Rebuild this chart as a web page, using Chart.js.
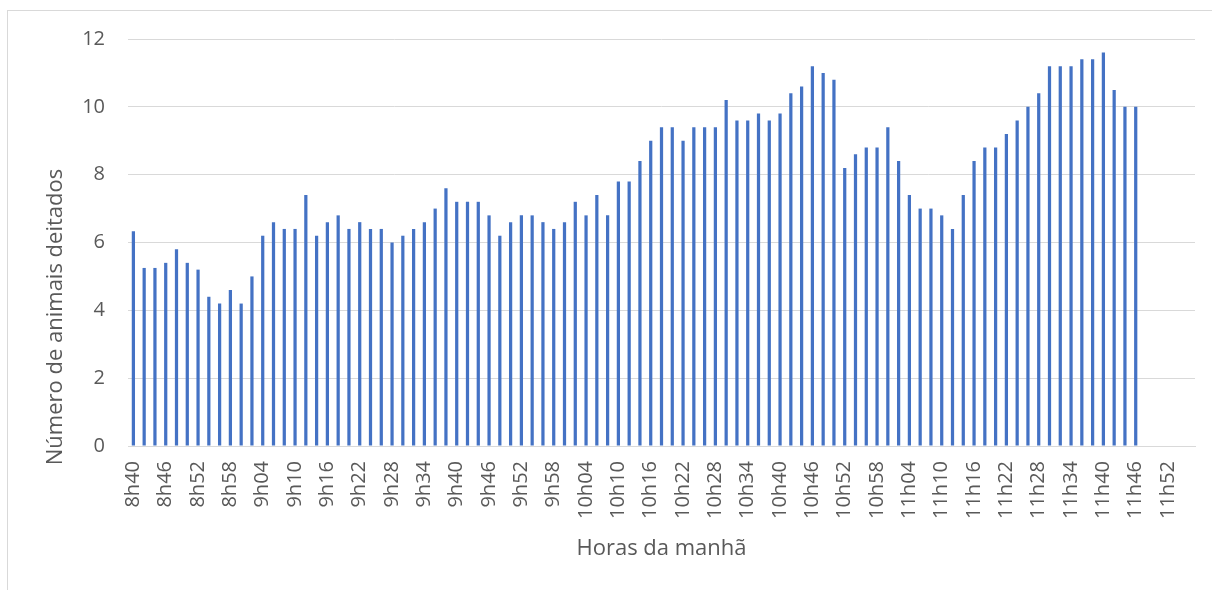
<!DOCTYPE html>
<html>
<head>
<meta charset="utf-8">
<script src="https://cdn.jsdelivr.net/npm/chart.js@4.4.0/dist/chart.umd.min.js"></script>
<style>
  html, body { margin: 0; padding: 0; background: #ffffff; overflow: hidden; }
  #wrap { position: relative; width: 1212px; height: 590px; }
  canvas { display: block; }
</style>
</head>
<body>
<div id="wrap"><canvas id="c" width="1212" height="590"></canvas></div>
<script>
// Categories: time of day, every 2 minutes
const categories = [
  '8h40','8h42','8h44','8h46','8h48','8h50','8h52','8h54','8h56','8h58',
  '9h00','9h02','9h04','9h06','9h08','9h10','9h12','9h14','9h16','9h18',
  '9h20','9h22','9h24','9h26','9h28','9h30','9h32','9h34','9h36','9h38',
  '9h40','9h42','9h44','9h46','9h48','9h50','9h52','9h54','9h56','9h58',
  '10h00','10h02','10h04','10h06','10h08','10h10','10h12','10h14','10h16','10h18',
  '10h20','10h22','10h24','10h26','10h28','10h30','10h32','10h34','10h36','10h38',
  '10h40','10h42','10h44','10h46','10h48','10h50','10h52','10h54','10h56','10h58',
  '11h00','11h02','11h04','11h06','11h08','11h10','11h12','11h14','11h16','11h18',
  '11h20','11h22','11h24','11h26','11h28','11h30','11h32','11h34','11h36','11h38',
  '11h40','11h42','11h44','11h46','11h48','11h50','11h52','11h54','11h56'
];

// Número de animais deitados
const animaisDeitados = [
  6.33, 5.25, 5.25, 5.4, 5.8, 5.4, 5.2, 4.4, 4.2, 4.6,
  4.2, 5.0, 6.2, 6.6, 6.4, 6.4, 7.4, 6.2, 6.6, 6.8,
  6.4, 6.6, 6.4, 6.4, 6.0, 6.2, 6.4, 6.6, 7.0, 7.6,
  7.2, 7.2, 7.2, 6.8, 6.2, 6.6, 6.8, 6.8, 6.6, 6.4,
  6.6, 7.2, 6.8, 7.4, 6.8, 7.8, 7.8, 8.4, 9.0, 9.4,
  9.4, 9.0, 9.4, 9.4, 9.4, 10.2, 9.6, 9.6, 9.8, 9.6,
  9.8, 10.4, 10.6, 11.2, 11.0, 10.8, 8.2, 8.6, 8.8, 8.8,
  9.4, 8.4, 7.4, 7.0, 7.0, 6.8, 6.4, 7.4, 8.4, 8.8,
  8.8, 9.2, 9.6, 10.0, 10.4, 11.2, 11.2, 11.2, 11.4, 11.4,
  11.6, 10.5, 10.0, 10.0
];

const yTicks = [0, 2, 4, 6, 8, 10, 12];
const xLabelEvery = 3;

const yTitle = 'Número de animais deitados';
const xTitle = 'Horas da manhã';

const textColor = '#595959';
const fontFamily = '"Open Sans", "Noto Sans", sans-serif';

const frameAndTitle = {
  id: 'frameAndTitle',
  beforeDraw(chart) {
    const ctx = chart.ctx;
    ctx.save();
    ctx.strokeStyle = '#d9d9d9';
    ctx.lineWidth = 1;
    ctx.strokeRect(7.5, 10.5, 1400, 800);
    ctx.restore();
  },
  afterDraw(chart) {
    const ctx = chart.ctx;
    const area = chart.chartArea;
    ctx.save();
    ctx.translate(area.left - 72, area.bottom - 129);
    ctx.rotate(-Math.PI / 2);
    ctx.textAlign = 'center';
    ctx.textBaseline = 'middle';
    ctx.font = '22px ' + fontFamily;
    ctx.fillStyle = textColor;
    ctx.fillText(yTitle, 0, 0);
    ctx.restore();
  }
};

new Chart(document.getElementById('c'), {
  type: 'bar',
  data: {
    labels: categories,
    datasets: [{
      label: yTitle,
      data: animaisDeitados,
      backgroundColor: '#4472C4',
      borderWidth: 0,
      barPercentage: 0.3,
      categoryPercentage: 1.0
    }]
  },
  options: {
    responsive: false,
    animation: false,
    devicePixelRatio: 1,
    layout: { padding: { top: 39, right: 17, bottom: 0, left: 0 } },
    plugins: {
      legend: { display: false },
      tooltip: { enabled: false },
      title: { display: false }
    },
    scales: {
      x: {
        grid: { display: false, drawTicks: false },
        border: { display: true, color: '#d9d9d9', width: 1 },
        ticks: {
          autoSkip: false,
          minRotation: 90,
          maxRotation: 90,
          padding: 15,
          color: textColor,
          font: { family: fontFamily, size: 20 },
          callback: function (v, i) { return i % xLabelEvery === 0 ? categories[i] : ''; }
        },
        title: {
          display: true,
          text: xTitle,
          color: textColor,
          font: { family: fontFamily, size: 22 },
          padding: { top: 0, bottom: 28 }
        },
        afterFit: function (scale) {
          scale.height = 144;
          scale.paddingLeft = 0;
          scale.paddingRight = 0;
        }
      },
      y: {
        min: 0,
        max: 12,
        grid: { color: '#d9d9d9', lineWidth: 1, drawTicks: false },
        border: { display: false },
        afterBuildTicks: function (scale) { scale.ticks = yTicks.map(v => ({ value: v })); },
        ticks: {
          padding: 23,
          color: textColor,
          font: { family: fontFamily, size: 20 }
        },
        afterFit: function (scale) { scale.width = 128; }
      }
    }
  },
  plugins: [frameAndTitle]
});
</script>
</body>
</html>
